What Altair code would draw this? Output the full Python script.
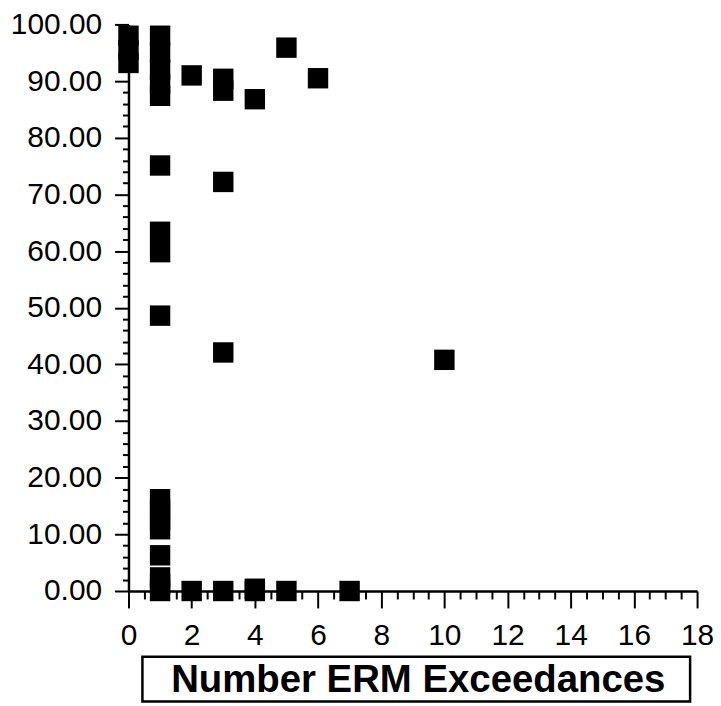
import altair as alt
import pandas as pd

# Data
x_vals = [0, 0, 0,
          1, 1, 1, 1, 1,
          1, 1, 1, 1,
          1, 1, 1, 1,
          1, 1, 1, 1,
          2, 2,
          3, 3, 3, 3, 3,
          4, 4, 4,
          5, 5,
          6,
          7,
          10]
y_vals = [98.0, 95.5, 93.2,
          98.0, 95.0, 92.0, 89.5, 87.4,
          75.1, 63.4, 59.8, 48.6,
          16.2, 14.4, 12.6, 10.9,
          6.3, 2.4, 1.2, 0.0,
          91.0, 0.0,
          90.4, 88.3, 72.2, 42.1, 0.0,
          86.8, 0.4, 0.0,
          95.9, 0.0,
          90.5,
          0.0,
          40.8]

x_ticks = [i * 0.5 for i in range(0, 37)]
y_ticks = list(range(0, 101, 2))
x_title = "Number ERM Exceedances"

df = pd.DataFrame({"x": x_vals, "y": y_vals})

FONT = "Liberation Sans"
W, H = 571, 569

points = alt.Chart(df).mark_square(size=420, color="black", opacity=1).encode(
    x=alt.X("x:Q",
            scale=alt.Scale(domain=[0, 18], nice=False, zero=False),
            axis=alt.Axis(
                values=x_ticks, title=None, grid=False,
                labelExpr="datum.value % 2 === 0 ? format(datum.value, 'd') : ''",
                labelOverlap=False, labelFlush=False, labelBound=False,
                labelFont=FONT, labelFontSize=30,
                labelColor="black", labelPadding=13,
                tickSize={"condition": {"test": "datum.value % 2 === 0", "value": 17}, "value": 8},
                tickWidth=2, tickColor="black",
                domainColor="black", domainWidth=2.5, orient="bottom")),
    y=alt.Y("y:Q",
            scale=alt.Scale(domain=[0, 100], nice=False, zero=False),
            axis=alt.Axis(
                values=y_ticks, title=None, grid=False,
                labelExpr="datum.value % 10 === 0 ? format(datum.value, '.2f') : ''",
                labelOverlap=False, labelFlush=False, labelBound=False,
                labelFont=FONT, labelFontSize=30,
                labelColor="black", labelPadding=13,
                tickSize={"condition": {"test": "datum.value % 10 === 0", "value": 14}, "value": 6},
                tickWidth=2, tickColor="black",
                domainColor="black", domainWidth=2.5, orient="left")),
)

box = alt.Chart(pd.DataFrame({"t": [x_title]})).mark_rect(
    fill="white", fillOpacity=0, stroke="black", strokeWidth=2.5
).encode(
    x=alt.value(14), x2=alt.value(564),
    y=alt.value(635), y2=alt.value(680),
)

title = alt.Chart(pd.DataFrame({"t": [x_title]})).mark_text(
    font=FONT, fontSize=38.5, fontWeight="bold", color="black",
    align="center", baseline="alphabetic"
).encode(
    text="t:N",
    x=alt.value(291), y=alt.value(670),
)

chart = alt.layer(points, box, title).properties(
    width=W, height=H,
    autosize=alt.AutoSizeParams(type="none"),
    padding={"left": 121, "top": 15, "right": 16, "bottom": 113},
    background="white",
).configure_view(strokeWidth=0)

chart.save("out.html", embed_options={"renderer": "svg", "actions": False})
